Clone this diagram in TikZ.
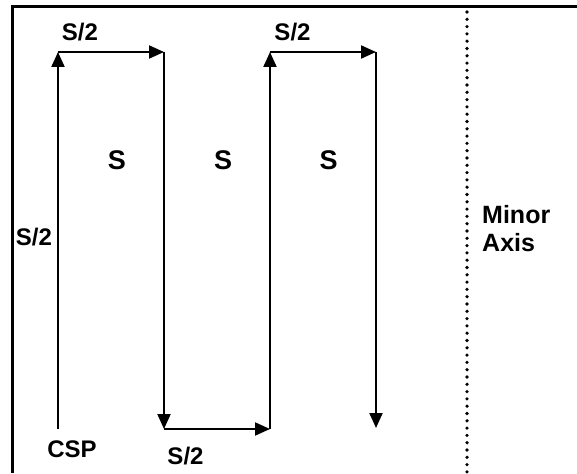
\documentclass[tikz,border=0pt]{standalone}
\usepackage{fontspec}
\setmainfont{Liberation Sans}
\usetikzlibrary{arrows.meta}
\begin{document}
\begin{tikzpicture}[x=1pt,y=-1pt,
  lbl/.style={font=\bfseries\fontsize{24}{30}\selectfont, inner sep=0pt, anchor=base},
  big/.style={font=\bfseries\fontsize{27}{32}\selectfont},
  seg/.style={line width=2pt, -{Triangle[length=15pt,width=13pt]}},
  frame/.style={line width=2.2pt},
  axisline/.style={line width=3.6pt, line cap=round, dash pattern=on 0pt off 7.3pt}]
\useasboundingbox (0,0) rectangle (577,473);
% frame
\coordinate (fl) at (12.5,473);
\coordinate (ftl) at (12.5,6.5);
\coordinate (fr) at (577,6.5);
\draw[frame] (fl) -- (ftl) -- (fr);
% minor axis
\coordinate (mt) at (467,12);
\coordinate (mb) at (467,473);
\draw[axisline] (mt) -- (mb);
% path corners
\coordinate (a0) at (58,429);
\coordinate (a1) at (58,52);
\coordinate (a2) at (164,52);
\coordinate (a3) at (164,429);
\coordinate (a4) at (270,429);
\coordinate (a5) at (270,52);
\coordinate (a6) at (376,52);
\coordinate (a7) at (376,428);
\draw[seg] (a0) -- (a1);
\draw[seg] (a1) -- (a2);
\draw[seg] (a2) -- (a3);
\draw[seg] (a3) -- (a4);
\draw[seg] (a4) -- (a5);
\draw[seg] (a5) -- (a6);
\draw[seg] (a6) -- (a7);
% labels
\node[lbl] (t1) at (80,41) {S/2};
\node[lbl] (t2) at (292.5,41) {S/2};
\node[lbl, big] (s1) at (117,169) {S};
\node[lbl, big] (s2) at (223,169) {S};
\node[lbl, big] (s3) at (328.5,169) {S};
\node[lbl] (l1) at (34,245) {S/2};
\node[lbl, anchor=base west, font=\bfseries\fontsize{25}{30}\selectfont] (ma1) at (482,223) {Minor};
\node[lbl, anchor=base west, font=\bfseries\fontsize{25}{30}\selectfont] (ma2) at (482,251) {Axis};
\node[lbl] (csp) at (72,457) {CSP};
\node[lbl] (b1) at (185.5,464) {S/2};
\end{tikzpicture}
\end{document}
